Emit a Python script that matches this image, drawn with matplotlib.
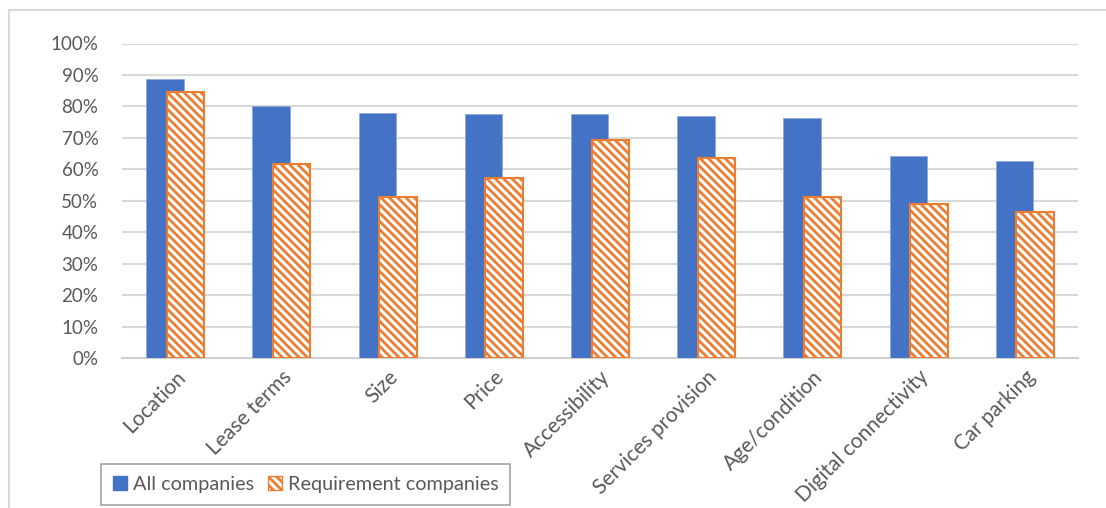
import numpy as np
import matplotlib
matplotlib.use("Agg")
import matplotlib.pyplot as plt
from matplotlib.patches import Patch
from matplotlib.lines import Line2D

# survey results: share of companies rating each factor as important
factors = ["Location", "Lease terms", "Size", "Price", "Accessibility",
           "Services provision", "Age/condition", "Digital connectivity", "Car parking"]
all_companies = [0.888, 0.802, 0.780, 0.775, 0.775, 0.770, 0.762, 0.644, 0.627]
requirement_companies = [0.847, 0.618, 0.511, 0.574, 0.693, 0.637, 0.511, 0.489, 0.466]
yticks = [0.0, 0.1, 0.2, 0.3, 0.4, 0.5, 0.6, 0.7, 0.8, 0.9, 1.0]

blue = "#4472C4"
orange = "#ED7D31"
grey_txt = "#595959"

plt.rcParams["font.family"] = ["Lato", "DejaVu Sans"]
plt.rcParams["hatch.linewidth"] = 2.0

W, H = 1106, 508
fig = plt.figure(figsize=(W / 100, H / 100), dpi=100)
ax = fig.add_axes([122 / W, 1 - 358.3 / H, 956 / W, (358.3 - 43.5) / H])

x = np.arange(len(factors))
ax.bar(x - 0.097, all_companies, width=0.352, color=blue,
       edgecolor="#8faadc", linewidth=0.6, zorder=3)
ax.bar(x + 0.097, requirement_companies, width=0.352, color="white",
       edgecolor=orange, hatch="\\\\\\\\", linewidth=1.5, zorder=4)

ax.set_xlim(-0.5, len(factors) - 0.5)
ax.set_ylim(0, 1.0)
ax.set_yticks(yticks)
ax.set_yticklabels([f"{int(round(v * 100))}%" for v in yticks], fontsize=13.5)
ax.yaxis.grid(True, color="#d9d9d9", linewidth=1.5, zorder=0)
ax.set_axisbelow(True)
ax.set_xticks(x)
ax.set_xticklabels(factors, rotation=45, ha="right", va="top", rotation_mode="anchor",
                   fontsize=15)
ax.tick_params(axis="both", length=0, colors=grey_txt)
ax.tick_params(axis="y", pad=17)
ax.tick_params(axis="x", pad=6)

for side in ["top", "right", "left"]:
    ax.spines[side].set_visible(False)
ax.spines["bottom"].set_color("#d0d0d0")
ax.spines["bottom"].set_linewidth(1.5)

handles = [Patch(facecolor=blue, edgecolor=blue, label="All companies"),
           Patch(facecolor="white", edgecolor=orange, hatch="\\\\\\\\", label="Requirement companies")]
leg = fig.legend(handles=handles, loc="lower left", ncol=2,
                 bbox_to_anchor=(101 / W, 3 / H), frameon=True, fancybox=False,
                 edgecolor="#8c8c8c", fontsize=14.3, handlelength=0.7, handleheight=0.7,
                 handletextpad=0.3, columnspacing=0.7, borderpad=0.6, borderaxespad=0)
for t in leg.get_texts():
    t.set_color(grey_txt)
leg.get_frame().set_linewidth(1.2)

# outer chart border (left and top edges)
fig.add_artist(Line2D([9 / W, 9 / W], [0, 1 - 10 / H], transform=fig.transFigure,
                      color="#d9d9d9", linewidth=1.5))
fig.add_artist(Line2D([9 / W, 1], [1 - 10 / H, 1 - 10 / H], transform=fig.transFigure,
                      color="#d9d9d9", linewidth=1.5))

fig.savefig("out.png", dpi=100)
